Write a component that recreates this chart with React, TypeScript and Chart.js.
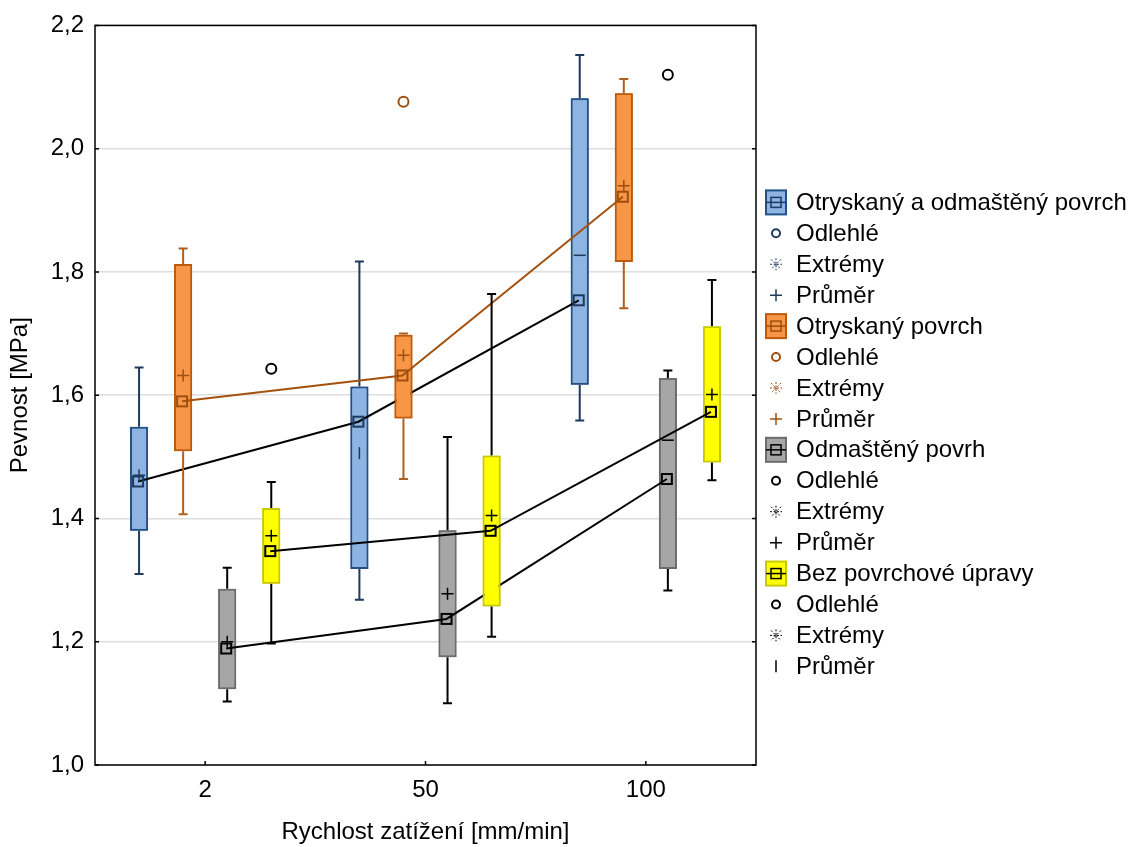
import { useEffect, useRef } from 'react';
import { Chart, registerables } from 'chart.js';

Chart.register(...registerables);

// ---------- data ----------
const categories = ['2', '50', '100'];
const seriesNames = [
  'Otryskaný a odmaštěný povrch',
  'Otryskaný povrch',
  'Odmaštěný povrh',
  'Bez povrchové úpravy',
];
const whiskerLow = [
  [1.31, 1.268, 1.559],
  [1.407, 1.464, 1.741],
  [1.103, 1.1, 1.283],
  [1.197, 1.208, 1.462],
];
const quartile1 = [
  [1.38, 1.318, 1.617],
  [1.509, 1.562, 1.816],
  [1.123, 1.175, 1.318],
  [1.294, 1.257, 1.491],
];
const medians = [
  [1.46, 1.557, 1.754],
  [1.59, 1.632, 1.922],
  [1.189, 1.237, 1.464],
  [1.347, 1.38, 1.573],
];
const quartile3 = [
  [1.549, 1.614, 2.082],
  [1.813, 1.698, 2.09],
  [1.286, 1.381, 1.628],
  [1.417, 1.502, 1.712],
];
const whiskerHigh = [
  [1.645, 1.817, 2.152],
  [1.838, 1.7, 2.113],
  [1.32, 1.532, 1.64],
  [1.459, 1.764, 1.787],
];
const means = [
  [1.47, 1.506, 1.827],
  [1.632, 1.665, 1.94],
  [1.2, 1.278, 1.527],
  [1.372, 1.405, 1.601],
];
const meanGlyphs = [
  ['+', '|', '-'],
  ['+', '+', '+'],
  ['+', '+', '-'],
  ['+', '+', '+'],
];
// [category index, value]
const outliers: number[][][] = [[], [[1, 2.076]], [[2, 2.12]], [[0, 1.643]]];
const legendMeanGlyphs = ['+', '+', '+', '|'];
const legendSubLabels = ['Odlehlé', 'Extrémy', 'Průměr'];
const yMin = 1.0;
const yMax = 2.2;
const yStep = 0.2;
const xTitle = 'Rychlost zatížení [mm/min]';
const yTitle = 'Pevnost [MPa]';

// ---------- styles ----------
const FONT = '"Liberation Sans", Arial, sans-serif';
const FONT_SIZE = 24;
const fills = ['#8DB4E2', '#F79646', '#A6A6A6', '#FFFF00'];
const borders = ['#24508A', '#BD5A0B', '#6C6C6C', '#C9C900'];
const whiskerColors = ['#1F3A5F', '#B0601E', '#000000', '#000000'];
const markColors = ['#1F3A5F', '#9E4F10', '#000000', '#000000'];
const lineColors = ['#000000', '#A6520F', '#000000', '#000000'];

function drawGlyph(ctx: CanvasRenderingContext2D, g: string, x: number, y: number, half: number) {
  ctx.beginPath();
  if (g === '+' || g === '-') {
    ctx.moveTo(x - half, y);
    ctx.lineTo(x + half, y);
  }
  if (g === '+' || g === '|') {
    ctx.moveTo(x, y - half);
    ctx.lineTo(x, y + half);
  }
  ctx.stroke();
}

const boxPlugin = {
  id: 'boxDetails',
  afterDatasetsDraw(chart: any) {
    const ys = chart.scales.y;
    const ctx: CanvasRenderingContext2D = chart.ctx;
    // series drawn in order: whiskers, box, median line, markers
    seriesNames.forEach((_, s) => {
      const bars = chart.getDatasetMeta(s).data;
      ctx.save();
      ctx.strokeStyle = whiskerColors[s];
      ctx.lineWidth = 2;
      bars.forEach((bar: any, i: number) => {
        const x = bar.x;
        const hi = ys.getPixelForValue(whiskerHigh[s][i]);
        const q3 = ys.getPixelForValue(quartile3[s][i]);
        const lo = ys.getPixelForValue(whiskerLow[s][i]);
        const q1 = ys.getPixelForValue(quartile1[s][i]);
        ctx.beginPath();
        ctx.moveTo(x, q3);
        ctx.lineTo(x, hi);
        ctx.moveTo(x - 4.5, hi);
        ctx.lineTo(x + 4.5, hi);
        ctx.moveTo(x, q1);
        ctx.lineTo(x, lo);
        ctx.moveTo(x - 4.5, lo);
        ctx.lineTo(x + 4.5, lo);
        ctx.stroke();
      });
      ctx.restore();
      // redraw the box elements on top of the whiskers
      bars.forEach((bar: any) => bar.draw(ctx, chart.chartArea));
      ctx.save();
      // connecting line through medians
      ctx.strokeStyle = lineColors[s];
      ctx.lineWidth = 2;
      ctx.beginPath();
      bars.forEach((bar: any, i: number) => {
        const y = ys.getPixelForValue(medians[s][i]);
        if (i === 0) ctx.moveTo(bar.x - 1, y);
        else ctx.lineTo(bar.x - 1, y);
      });
      ctx.stroke();
      // median squares
      ctx.strokeStyle = markColors[s];
      ctx.lineWidth = 2;
      bars.forEach((bar: any, i: number) => {
        const y = ys.getPixelForValue(medians[s][i]);
        ctx.strokeRect(bar.x - 6, y - 5, 10, 10);
      });
      // means
      ctx.lineWidth = 1.5;
      bars.forEach((bar: any, i: number) => {
        const y = ys.getPixelForValue(means[s][i]);
        drawGlyph(ctx, meanGlyphs[s][i], bar.x, y, 6);
      });
      // outliers
      ctx.lineWidth = 2;
      outliers[s].forEach(([ci, v]) => {
        const bar = bars[ci];
        const y = ys.getPixelForValue(v);
        ctx.beginPath();
        ctx.arc(bar.x, y, 5, 0, Math.PI * 2);
        ctx.stroke();
      });
      ctx.restore();
    });
  },
  afterDraw(chart: any) {
    const ctx: CanvasRenderingContext2D = chart.ctx;
    const { left, right, top, bottom } = chart.chartArea;
    const ys = chart.scales.y;
    const xs = chart.scales.x;
    ctx.save();
    // frame
    ctx.strokeStyle = '#000';
    ctx.lineWidth = 1.5;
    ctx.strokeRect(left, top, right - left, bottom - top);
    // inward ticks
    ctx.beginPath();
    for (let v = yMin; v <= yMax + 1e-9; v += yStep) {
      const y = ys.getPixelForValue(v);
      ctx.moveTo(left, y);
      ctx.lineTo(left + 4, y);
      ctx.moveTo(right, y);
      ctx.lineTo(right - 4, y);
    }
    categories.forEach((_, i) => {
      const x = xs.getPixelForValue(i);
      ctx.moveTo(x, bottom);
      ctx.lineTo(x, bottom - 4);
    });
    ctx.stroke();

    // legend
    const iconX = right + 20;
    const textX = right + 40;
    const rowH = 30.93;
    let rowY = top + 177;
    ctx.font = `${FONT_SIZE}px ${FONT}`;
    ctx.textBaseline = 'middle';
    ctx.textAlign = 'left';
    seriesNames.forEach((name, s) => {
      // box icon
      ctx.fillStyle = fills[s];
      ctx.fillRect(iconX - 10, rowY - 12, 20, 24);
      ctx.strokeStyle = borders[s];
      ctx.lineWidth = 2;
      ctx.strokeRect(iconX - 10, rowY - 12, 20, 24);
      ctx.strokeStyle = markColors[s];
      ctx.lineWidth = 1.5;
      ctx.strokeRect(iconX - 5, rowY - 5, 10, 10);
      ctx.beginPath();
      ctx.moveTo(iconX - 10, rowY);
      ctx.lineTo(iconX + 10, rowY);
      ctx.stroke();
      ctx.fillStyle = '#000';
      ctx.fillText(name, textX, rowY + 1);
      rowY += rowH;
      // outlier icon
      ctx.strokeStyle = markColors[s];
      ctx.lineWidth = 2;
      ctx.beginPath();
      ctx.arc(iconX, rowY, 4, 0, Math.PI * 2);
      ctx.stroke();
      ctx.fillText(legendSubLabels[0], textX, rowY + 1);
      rowY += rowH;
      // extremes icon
      ctx.lineWidth = 1;
      ctx.setLineDash([2, 1.5]);
      ctx.beginPath();
      ctx.moveTo(iconX - 6, rowY);
      ctx.lineTo(iconX + 6, rowY);
      ctx.moveTo(iconX, rowY - 6);
      ctx.lineTo(iconX, rowY + 6);
      ctx.moveTo(iconX - 5, rowY - 5);
      ctx.lineTo(iconX + 5, rowY + 5);
      ctx.moveTo(iconX + 5, rowY - 5);
      ctx.lineTo(iconX - 5, rowY + 5);
      ctx.stroke();
      ctx.setLineDash([]);
      ctx.fillText(legendSubLabels[1], textX, rowY + 1);
      rowY += rowH;
      // mean icon
      ctx.lineWidth = 1.5;
      drawGlyph(ctx, legendMeanGlyphs[s], iconX, rowY, 6);
      ctx.fillText(legendSubLabels[2], textX, rowY + 1);
      rowY += rowH;
    });
    ctx.restore();
  },
};

export default function App() {
  const canvasRef = useRef<HTMLCanvasElement | null>(null);

  useEffect(() => {
    document.body.style.margin = '0';
    document.body.style.overflow = 'hidden';
    const canvas = canvasRef.current;
    if (!canvas) return;
    const tickFont = { family: FONT, size: FONT_SIZE };
    const chart = new Chart(canvas, {
      type: 'bar',
      data: {
        labels: categories,
        datasets: seriesNames.map((name, s) => ({
          label: name,
          data: quartile1[s].map((q, i) => [q, quartile3[s][i]]),
          backgroundColor: fills[s],
          borderColor: borders[s],
          borderWidth: 2,
          borderSkipped: false,
          categoryPercentage: 0.8,
          barPercentage: 0.41,
        })) as any,
      },
      options: {
        responsive: false,
        animation: false,
        layout: { padding: { top: 22, right: 372, bottom: 0, left: 0 } },
        plugins: {
          legend: { display: false },
          tooltip: { enabled: false },
        },
        scales: {
          x: {
            grid: { display: false, drawTicks: false },
            border: { display: false },
            ticks: { font: tickFont, color: '#000', padding: 11 },
            title: {
              display: true,
              text: xTitle,
              font: tickFont,
              color: '#000',
              padding: 0,
            },
            afterFit: (scale: any) => {
              scale.height = 82;
            },
          },
          y: {
            min: yMin,
            max: yMax,
            grid: { color: '#dedede', lineWidth: 1.5, drawTicks: false },
            border: { display: false },
            ticks: {
              stepSize: yStep,
              font: tickFont,
              color: '#000',
              padding: 11,
              callback: (v: any) => Number(v).toFixed(1).replace('.', ','),
            },
            title: {
              display: true,
              text: yTitle,
              font: tickFont,
              color: '#000',
              padding: { top: 6, bottom: 0 },
            },
            afterFit: (scale: any) => {
              scale.width = 95;
            },
          },
        },
      },
      plugins: [boxPlugin],
    });
    return () => chart.destroy();
  }, []);

  return <canvas ref={canvasRef} width={1128} height={847} style={{ display: 'block' }} />;
}
